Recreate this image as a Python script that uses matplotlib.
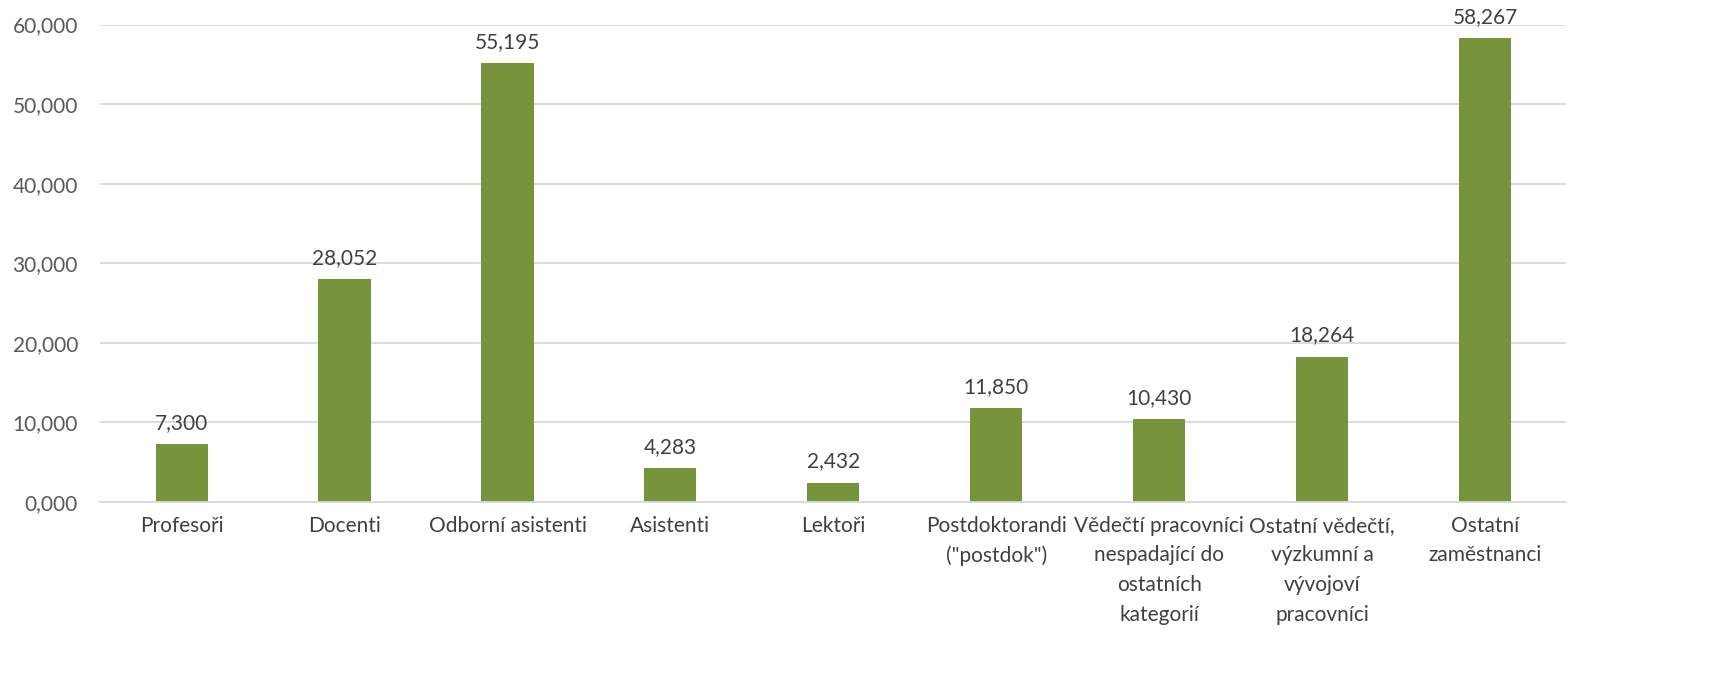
import matplotlib
matplotlib.use("Agg")
import matplotlib.pyplot as plt
from matplotlib.ticker import FuncFormatter

categories = [
    "Profesoři",
    "Docenti",
    "Odborní asistenti",
    "Asistenti",
    "Lektoři",
    "Postdoktorandi\n(\"postdok\")",
    "Vědečtí pracovníci\nnespadající do\nostatních\nkategorií",
    "Ostatní vědečtí,\nvýzkumní a\nvývojoví\npracovníci",
    "Ostatní\nzaměstnanci",
]
values = [7.300, 28.052, 55.195, 4.283, 2.432, 11.850, 10.430, 18.264, 58.267]
y_ticks = [0, 10, 20, 30, 40, 50, 60]

plt.rcParams["font.family"] = ["Lato", "DejaVu Sans"]

fig = plt.figure(figsize=(17.27, 6.83), dpi=100)
ax = fig.add_axes([0.058, 0.265, 0.849, 0.699])

x = range(len(categories))
ax.bar(x, values, width=0.32, color="#77933C", zorder=3)

for xi, v in zip(x, values):
    ax.annotate(f"{v:.3f}".replace(".", ","), (xi, v), xytext=(0, 8),
                textcoords="offset points", ha="center", va="bottom",
                fontsize=15, color="#404040")

ax.set_xlim(-0.5, len(categories) - 0.5)
ax.set_ylim(0, 60)
ax.set_yticks(y_ticks)
ax.yaxis.set_major_formatter(FuncFormatter(lambda v, p: f"{v:.3f}".replace(".", ",")))
ax.set_xticks(list(x))
ax.set_xticklabels(categories, fontsize=15, color="#404040", linespacing=1.6)
ax.tick_params(axis="y", labelsize=15, labelcolor="#595959", length=0, pad=16)
ax.tick_params(axis="x", length=0, pad=10)

ax.grid(axis="y", color="#D9D9D9", linewidth=1.3, zorder=0)
for s in ["top", "right", "left"]:
    ax.spines[s].set_visible(False)
ax.spines["bottom"].set_color("#D9D9D9")
ax.spines["bottom"].set_linewidth(1.3)
ax.spines["bottom"].set_zorder(4)

fig.savefig("out.png", dpi=100)
